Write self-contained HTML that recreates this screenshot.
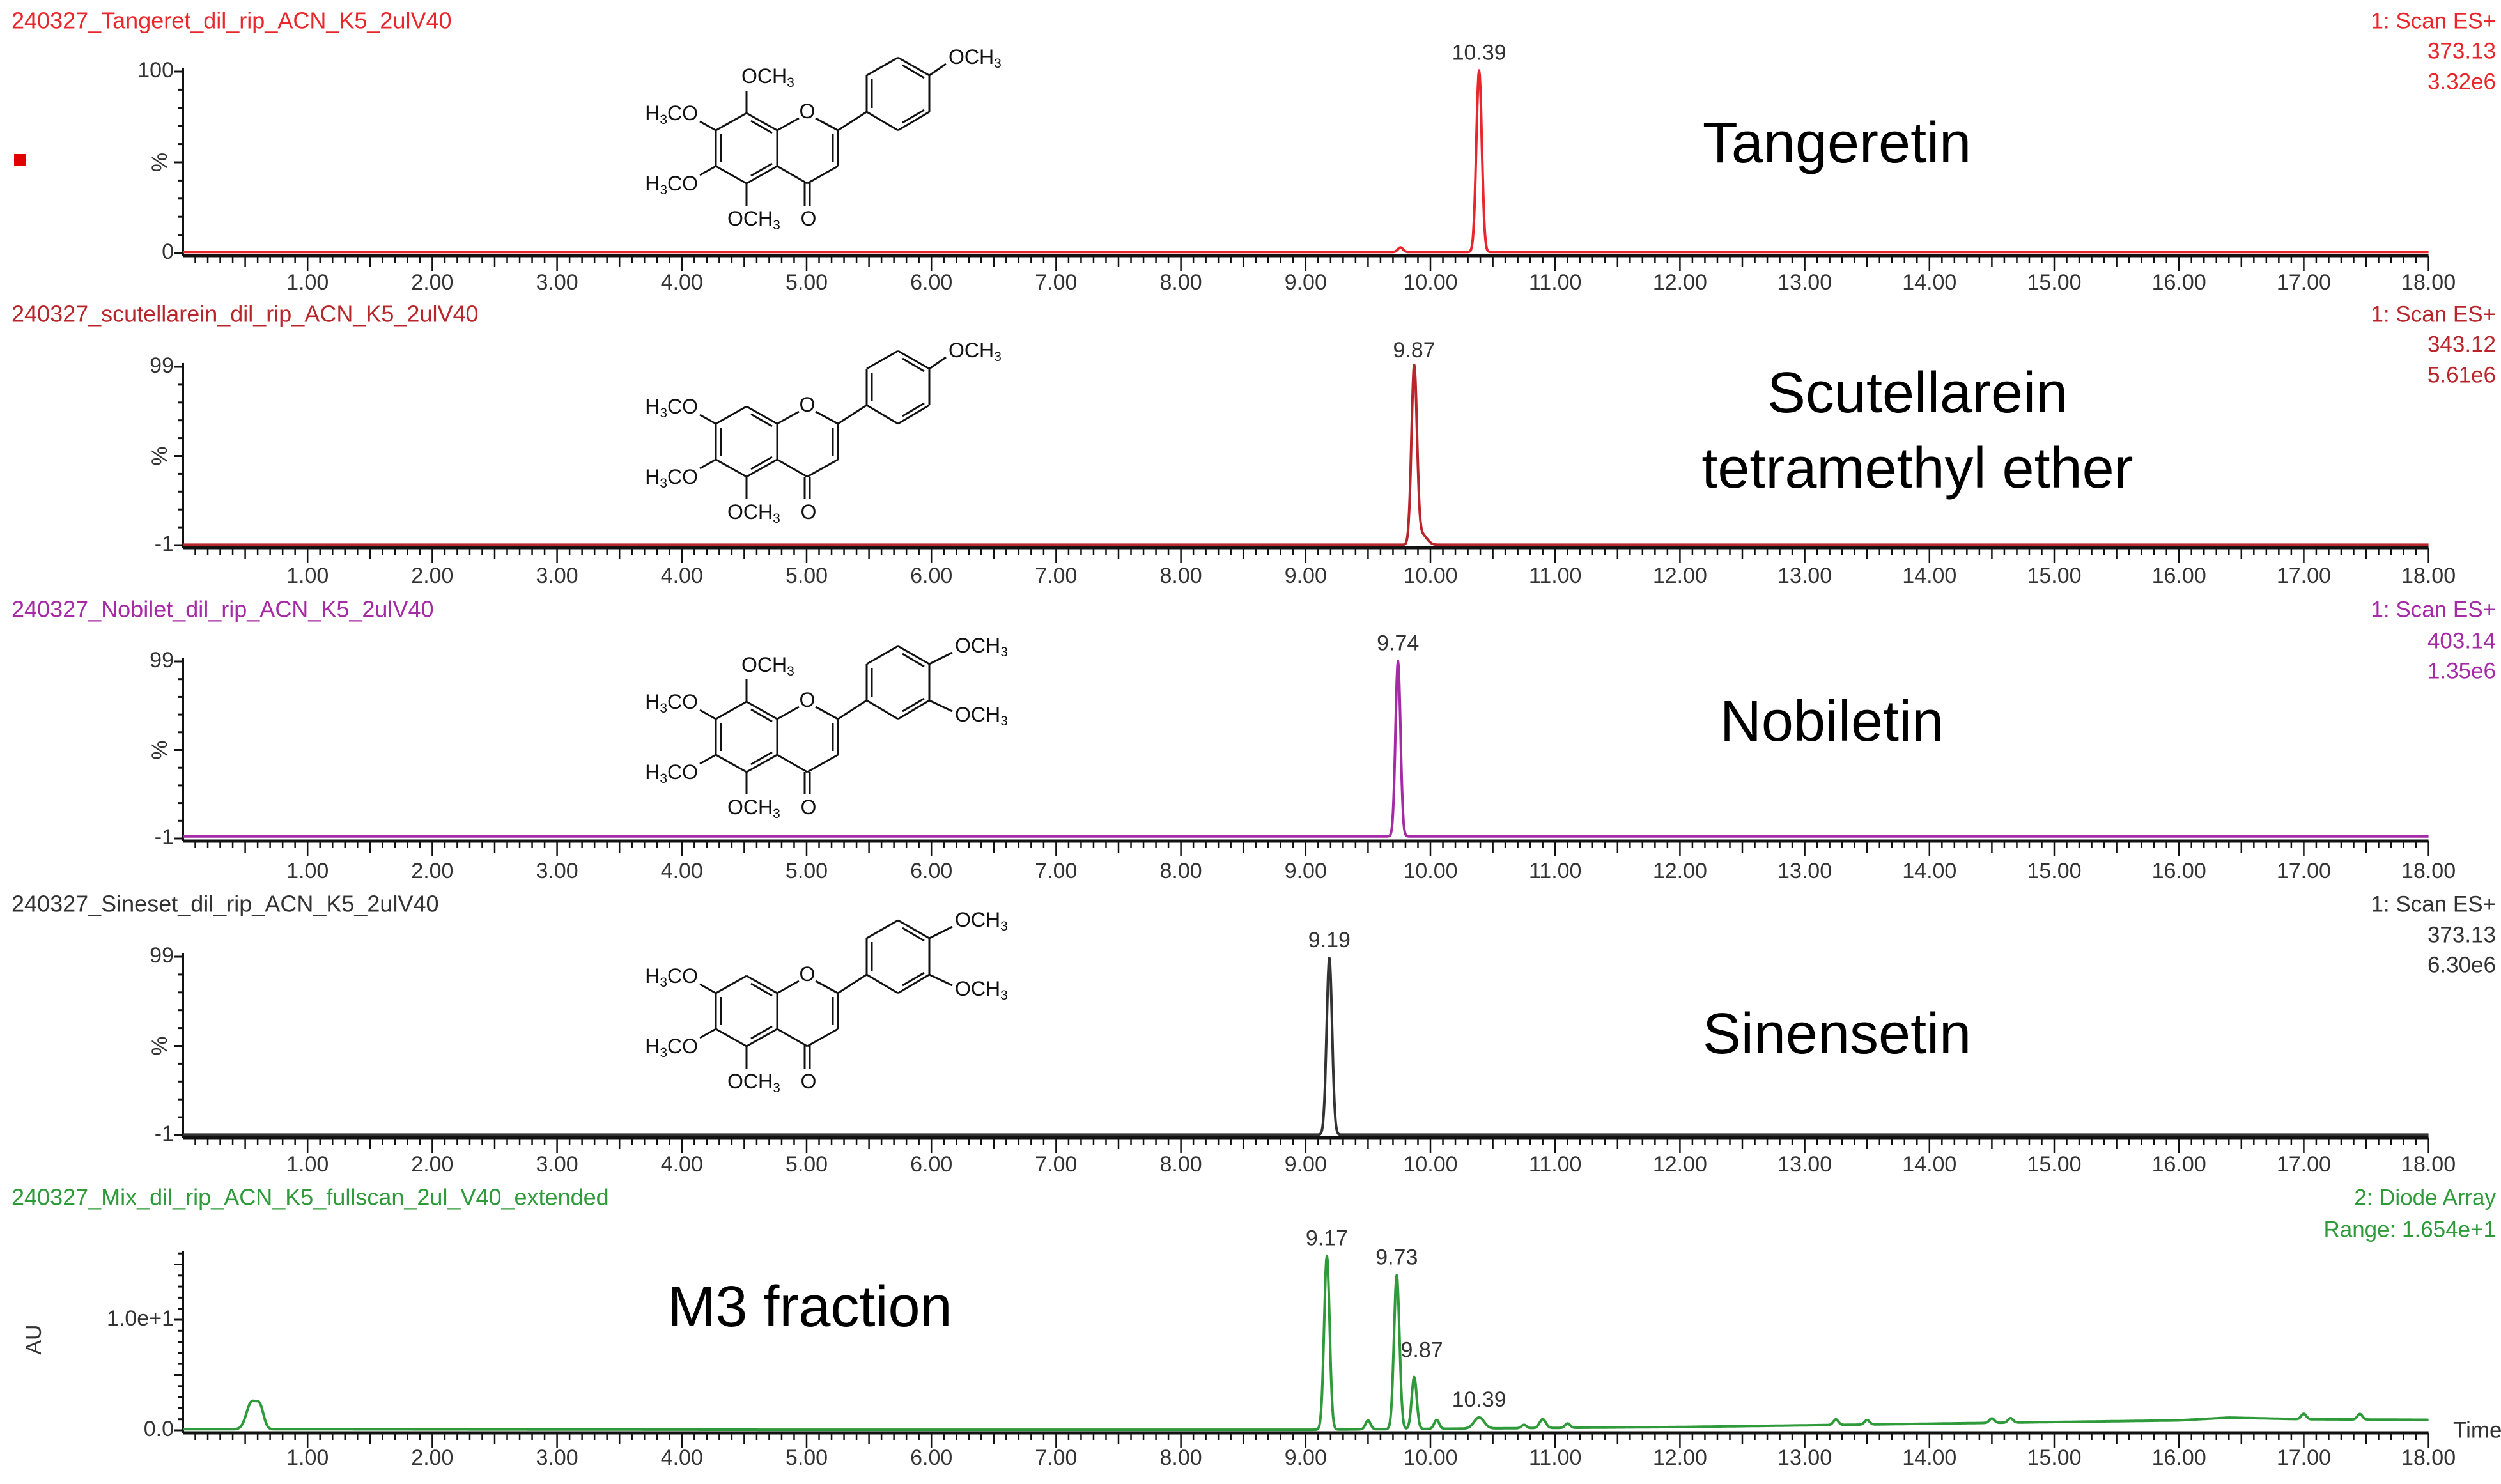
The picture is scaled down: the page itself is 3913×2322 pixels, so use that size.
<!DOCTYPE html>
<html><head><meta charset="utf-8"><style>
html,body{margin:0;padding:0;background:#fff}
svg{display:block}
text{font-family:"Liberation Sans",sans-serif}
</style></head><body>
<svg id="chart" xmlns="http://www.w3.org/2000/svg" width="3913" height="2322" viewBox="0 0 3913 2322">
<rect width="3913" height="2322" fill="#fff"/>
<rect x="22" y="241" width="18" height="18" fill="#e00000"/>
</svg>
<script>
// ---- data ----
var xTicks = [1,2,3,4,5,6,7,8,9,10,11,12,13,14,15,16,17,18];
var p1PeakTimes = [10.39, 9.76];
var p1PeakHeights = [100, 2.5];
var p1PeakWidths = [0.022, 0.02];
var p2PeakTimes = [9.87, 9.93];
var p2PeakHeights = [99, 6];
var p2PeakWidths = [0.022, 0.04];
var p3PeakTimes = [9.74];
var p3PeakHeights = [99];
var p3PeakWidths = [0.02];
var p4PeakTimes = [9.19];
var p4PeakHeights = [99];
var p4PeakWidths = [0.022];
var p5PeakTimes = [0.55, 0.62, 9.17, 9.50, 9.73, 9.87, 10.05, 10.39, 10.75, 10.90, 11.1, 13.25, 13.5, 14.5, 14.65, 17.0, 17.45];
var p5PeakHeights = [2.4, 1.8, 15.7, 0.8, 13.9, 4.7, 0.8, 1.0, 0.3, 0.8, 0.4, 0.5, 0.4, 0.4, 0.4, 0.5, 0.5];
var p5PeakWidths = [0.04, 0.03, 0.022, 0.02, 0.022, 0.02, 0.02, 0.04, 0.02, 0.025, 0.02, 0.02, 0.02, 0.02, 0.02, 0.02, 0.02];
var p5BaseTimes = [0, 1, 5, 9, 12, 14, 15, 16, 16.4, 17, 18];
var p5BaseValues = [0.1, 0.1, 0.05, 0.05, 0.3, 0.6, 0.75, 0.9, 1.15, 1.0, 0.95];
var p1Labels = ["10.39"], p2Labels = ["9.87"], p3Labels = ["9.74"], p4Labels = ["9.19"];
var p5Labels = ["9.17","9.73","9.87","10.39"];
var p5LabelIdx = [2,4,5,7];

var NS="http://www.w3.org/2000/svg";
var svg=document.getElementById('chart');
function el(tag,attrs,parent){var e=document.createElementNS(NS,tag);for(var k in attrs)e.setAttribute(k,attrs[k]);(parent||svg).appendChild(e);return e;}
var X0=286, XS=195.2;
function xPos(t){return X0+t*XS;}

var panels=[
 {name:'tangeretin',color:'#e8262b',title:'240327_Tangeret_dil_rip_ACN_K5_2ulV40',tY:35,top:112,base:396,ymin:0,ymax:100,yl:['100','%','0'],
  right:['1: Scan ES+','373.13','3.32e6'],rY:[35,82,130],tl:444,times:p1PeakTimes,h:p1PeakHeights,w:p1PeakWidths,labels:p1Labels,lidx:[0],bl:0.6,
  names:['Tangeretin'],nY:[230],nX:2874,so:0,c8:true,di:false},
 {name:'scutellarein',color:'#b8262c',title:'240327_scutellarein_dil_rip_ACN_K5_2ulV40',tY:494,top:574,base:853,ymin:-1,ymax:99,yl:['99','%','-1'],
  right:['1: Scan ES+','343.12','5.61e6'],rY:[494,541,589],tl:903,times:p2PeakTimes,h:p2PeakHeights,w:p2PeakWidths,labels:p2Labels,lidx:[0],bl:0.2,
  names:['Scutellarein','tetramethyl ether'],nY:[621,739],nX:3000,so:459,c8:false,di:false},
 {name:'nobiletin',color:'#a52aa5',title:'240327_Nobilet_dil_rip_ACN_K5_2ulV40',tY:956,top:1035,base:1312,ymin:-1,ymax:99,yl:['99','%','-1'],
  right:['1: Scan ES+','403.14','1.35e6'],rY:[956,1005,1052],tl:1365,times:p3PeakTimes,h:p3PeakHeights,w:p3PeakWidths,labels:p3Labels,lidx:[0],bl:1.2,
  names:['Nobiletin'],nY:[1135],nX:2866,so:921,c8:true,di:true},
 {name:'sinensetin',color:'#333333',title:'240327_Sineset_dil_rip_ACN_K5_2ulV40',tY:1417,top:1497,base:1776,ymin:-1,ymax:99,yl:['99','%','-1'],
  right:['1: Scan ES+','373.13','6.30e6'],rY:[1417,1465,1512],tl:1824,times:p4PeakTimes,h:p4PeakHeights,w:p4PeakWidths,labels:p4Labels,lidx:[0],bl:0.2,
  names:['Sinensetin'],nY:[1624],nX:2874,so:1350,c8:false,di:true},
 {name:'m3-fraction',color:'#2e9a3a',title:'240327_Mix_dil_rip_ACN_K5_fullscan_2ul_V40_extended',tY:1876,top:2065,base:2238,ymin:0,ymax:10,yl:['1.0e+1','AU','0.0'],
  right:['2: Diode Array','Range: 1.654e+1'],rY:[1876,1926],tl:2283,times:p5PeakTimes,h:p5PeakHeights,w:p5PeakWidths,labels:p5Labels,lidx:p5LabelIdx,bl:null,
  names:['M3 fraction'],nY:[2051],nX:1267,so:null,axTop:1957}
];

function interp(ts,vs,t){for(var i=1;i<ts.length;i++){if(t<=ts[i]){var f=(t-ts[i-1])/(ts[i]-ts[i-1]);return vs[i-1]+f*(vs[i]-vs[i-1]);}}return vs[vs.length-1];}

panels.forEach(function(p,pi){
  var g=el('g',{});
  
  
  function yPos(v){return p.base-(v-p.ymin)/(p.ymax-p.ymin)*(p.base-p.top);}
  var t=el('text',{x:18,y:p.tY,'font-size':36,fill:p.color,'dominant-baseline':'middle'},g);t.textContent=p.title;
  
  p.right.forEach(function(s,i){var r=el('text',{x:3905,y:p.rY[i],'font-size':35,fill:p.color,'text-anchor':'end','dominant-baseline':'middle'},g);r.textContent=s;
    });
  var axTop=p.axTop||p.top-6, axB=p.base+4;
  var ya=el('line',{x1:X0,y1:axTop,x2:X0,y2:axB,stroke:'#111','stroke-width':4},g);
  
  var nMinor=p.ymin===0&&p.ymax===10?  Math.floor((p.base-axTop)/(p.base-p.top)*10) : 10;
  for(var i=0;i<=nMinor;i++){var yy=p.base-(p.base-p.top)*i/10;var big=(i%5==0);
    el('line',{x1:X0-(big?14:8),y1:yy,x2:X0,y2:yy,stroke:'#111','stroke-width':3},g);}
  var lab1=el('text',{x:X0-14,y:p.top,'font-size':34,fill:'#333','text-anchor':'end','dominant-baseline':'middle'},g);lab1.textContent=p.yl[0];
  
  var lab3=el('text',{x:X0-14,y:p.base,'font-size':34,fill:'#333','text-anchor':'end','dominant-baseline':'middle'},g);lab3.textContent=p.yl[2];
  
  var ym=pi<4?(p.top+p.base)/2:2096, yx=pi<4?252:55;
  var lab2=el('text',{x:yx,y:ym,'font-size':34,fill:'#333','text-anchor':'middle','dominant-baseline':'middle',transform:'rotate(-90 '+yx+' '+ym+')'},g);lab2.textContent=p.yl[1];
  
  var xa=el('line',{x1:X0,y1:axB,x2:xPos(18),y2:axB,stroke:'#111','stroke-width':5},g);
  
  for(var k=1;k<=180;k++){var tt=k/10;var len=(k%10==0)?24:(k%5==0?18:11);
    el('line',{x1:xPos(tt),y1:axB,x2:xPos(tt),y2:axB+len,stroke:'#111','stroke-width':2.5},g);}
  xTicks.forEach(function(v){var tx=el('text',{x:xPos(v),y:p.tl,'font-size':34,fill:'#333','text-anchor':'middle','dominant-baseline':'middle'},g);tx.textContent=v.toFixed(2);
    });
  if(pi==4){var tm=el('text',{x:3838,y:2240,'font-size':35,fill:'#333','dominant-baseline':'middle'},g);tm.textContent='Time';
    }
  var d='';
  for(var s=0;s<=3600;s++){var tt=s*0.005;
    var v=p.bl===null?interp(p5BaseTimes,p5BaseValues,tt):p.ymin+p.bl;
    for(var j=0;j<p.times.length;j++){var z=(tt-p.times[j])/p.w[j];v+=p.h[j]*Math.exp(-0.5*z*z);}
    d+=(s?'L':'M')+xPos(tt).toFixed(1)+' '+yPos(v).toFixed(1);}
  var tr=el('path',{d:d,fill:'none',stroke:p.color,'stroke-width':4,'stroke-linejoin':'round'},g);
  
  p.labels.forEach(function(lb,i){var j=p.lidx[i];var pv=(p.bl===null?interp(p5BaseTimes,p5BaseValues,p.times[j]):p.ymin+p.bl)+p.h[j];
    var off=(pi==4&&j==5)?40:26;
    var pl=el('text',{x:xPos(p.times[j])+(pi==4&&j==5?12:0),y:yPos(pv)-off,'font-size':34,fill:'#333','text-anchor':'middle','dominant-baseline':'middle'},g);pl.textContent=lb;
    });
  p.names.forEach(function(n,i){var cn=el('text',{x:p.nX,y:p.nY[i],'font-size':90,fill:'#000','text-anchor':'middle','dominant-baseline':'middle'},g);cn.textContent=n;
    });
  if(p.so!==null) drawStructure(g,p.so,p.c8,p.di);
});

function drawStructure(parent,oy,c8,di){
  var g=el('g',{transform:'translate(0,'+oy+')'},parent);
  
  function L(a,b,c,d){el('line',{x1:a,y1:b,x2:c,y2:d,stroke:'#111','stroke-width':3},g);}
  function T(x,y,parts,anchor){var t=el('text',{x:x,y:y,'font-size':32,fill:'#111','text-anchor':anchor||'start','dominant-baseline':'middle'},g);
    parts.forEach(function(pt){var s=el('tspan',{},t);if(pt[1]){s.setAttribute('font-size','21');s.setAttribute('dy','8');}else if(pt[2]){s.setAttribute('dy','-8');}s.textContent=pt[0];});return t;}
  var A=[[1168,177],[1216,204],[1216,260],[1168,287],[1120,260],[1120,204]];
  for(var i=0;i<6;i++){var a=A[i],b=A[(i+1)%6];L(a[0],a[1],b[0],b[1]);}
  L(1128,210,1128,254);L(1175,189,1208,208);L(1175,275,1208,256);
  L(1216,204,1250,185);L(1276,185,1311,204);L(1311,204,1311,260);L(1311,260,1263,287);L(1263,287,1216,260);
  L(1303,210,1303,254);
  T(1263,177,[['O']],'middle');
  L(1259,287,1259,322);L(1267,287,1267,322);
  T(1265,345,[['O']],'middle');
  var B=[[1405,90],[1454,118],[1454,175],[1405,204],[1356,175],[1356,118]];
  for(var i=0;i<6;i++){var a=B[i],b=B[(i+1)%6];L(a[0],a[1],b[0],b[1]);}
  L(1364,124,1364,169);L(1412,102,1446,122);L(1412,192,1446,172);
  L(1311,204,1356,175);
  if(c8){L(1168,177,1168,142);T(1160,122,[['OCH'],['3',1]]);}
  L(1120,204,1095,190);T(1092,180,[['H'],['3',1],['CO',0,1]],'end');
  L(1120,260,1095,274);T(1092,290,[['H'],['3',1],['CO',0,1]],'end');
  L(1168,287,1168,322);T(1138,345,[['OCH'],['3',1]]);
  if(di){L(1454,118,1490,100);T(1494,92,[['OCH'],['3',1]]);L(1454,175,1490,192);T(1494,200,[['OCH'],['3',1]]);}
  else{L(1454,118,1480,100);T(1484,92,[['OCH'],['3',1]]);}
}
</script>
</body></html>
